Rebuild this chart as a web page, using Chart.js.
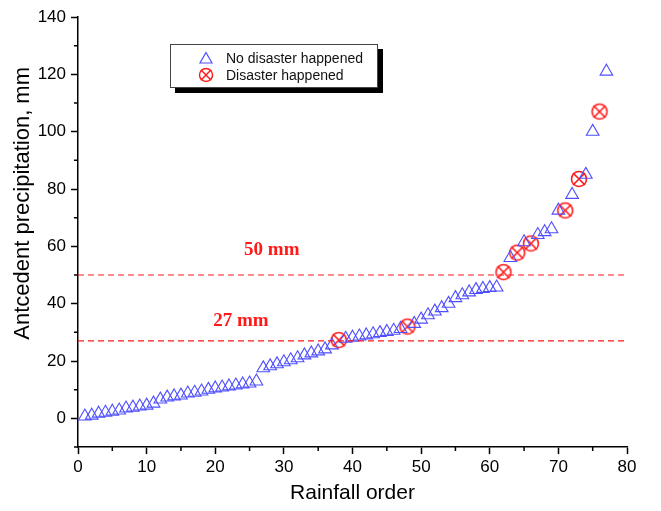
<!DOCTYPE html>
<html>
<head>
<meta charset="utf-8">
<script src="https://cdn.jsdelivr.net/npm/chart.js@4.4.1/dist/chart.umd.min.js"></script>
<style>
html,body{margin:0;padding:0;background:#fff;}
#wrap{position:relative;width:661px;height:511px;}
#legend{position:absolute;left:170px;top:44px;width:206px;height:42px;border:1px solid #444;background:#fff;box-shadow:5px 5px 0 #000;font:14px "Liberation Sans",Arial,sans-serif;color:#111;}
.row{position:absolute;left:0;height:17px;line-height:17px;width:100%;}
.row canvas{position:absolute;left:27px;top:0;}
.row span{position:absolute;left:55px;white-space:nowrap;}
</style>
</head>
<body>
<div id="wrap">
  <canvas id="chart" width="661" height="511"></canvas>
  <div id="legend">
    <div class="row" style="top:5px"><canvas id="lgBlue" width="16" height="16"></canvas><span>No disaster happened</span></div>
    <div class="row" style="top:22px"><canvas id="lgRed" width="16" height="16"></canvas><span>Disaster happened</span></div>
  </div>
</div>
<script>
// rainfall order (x) and antecedent precipitation in mm (y)
const noDisasterRank = [1,2,3,4,5,6,7,8,9,10,11,12,13,14,15,16,17,18,19,20,21,22,23,24,25,26,27,28,29,30,31,32,33,34,35,36,37,
  39,40,41,42,43,44,45,46,47,49,50,51,52,53,54,55,56,57,58,59,60,61,63,65,67,68,69,70,72,74,75,77];
const noDisasterValue = [0.7,1.0,1.7,2.0,2.4,2.8,3.5,3.8,4.2,4.5,5.2,6.6,7.3,7.7,8.0,8.7,9.0,9.4,10.0,10.5,10.8,11.2,11.5,11.9,12.2,12.9,
  17.5,18.2,18.9,19.6,20.3,21.0,22.0,22.7,23.4,24.1,25.5,
  27.8,28.2,28.6,29.0,29.4,29.8,30.2,30.6,31.2,
  33.0,34.5,36.0,37.3,38.5,40.0,42.0,43.0,44.0,44.8,45.2,45.5,45.7,
  56,61.5,64,65,66,72.5,78,85,100,121];
const disasterRank = [38,48,62,64,66,71,73,76];
const disasterValue = [27.3,32,51,57.8,61,72.5,83.5,107];

const thresholds = [50, 27];
const thresholdLabels = ['50 mm', '27 mm'];

const xTicks = [0,10,20,30,40,50,60,70,80];
const yTicks = [0,20,40,60,80,100,120,140];

const yTitle = 'Antcedent precipitation, mm';

const blue = '#4f4fff';
const red = '#ff1a1a';

// circle with a cross, used as the "disaster" marker
function makeCrossCircle(size, r, lw) {
  const c = document.createElement('canvas');
  c.width = size; c.height = size;
  drawCrossCircle(c.getContext('2d'), size / 2, r, lw);
  return c;
}
function drawCrossCircle(g, m, r, lw) {
  g.strokeStyle = red;
  g.lineWidth = lw;
  g.beginPath();
  g.arc(m, m, r, 0, Math.PI * 2);
  g.stroke();
  const d = r * 0.8;
  g.beginPath();
  g.moveTo(m - d, m - d); g.lineTo(m + d, m + d);
  g.moveTo(m + d, m - d); g.lineTo(m - d, m + d);
  g.stroke();
}
const redMarker = makeCrossCircle(20, 7.5, 1.6);

// legend icons
(function () {
  const gb = document.getElementById('lgBlue').getContext('2d');
  gb.strokeStyle = blue; gb.lineWidth = 1.2;
  gb.beginPath();
  gb.moveTo(8, 2.5); gb.lineTo(14, 13); gb.lineTo(2, 13); gb.closePath();
  gb.stroke();
  drawCrossCircle(document.getElementById('lgRed').getContext('2d'), 8, 6.5, 1.4);
})();

const extras = {
  id: 'extras',
  afterDraw(chart) {
    const {ctx, scales: {x, y}} = chart;
    ctx.save();
    // minor ticks, shorter than the major ones
    ctx.strokeStyle = '#000';
    ctx.lineWidth = 1.5;
    ctx.beginPath();
    x.ticks.forEach(t => {
      if (!xTicks.includes(t.value)) {
        const px = x.getPixelForValue(t.value);
        ctx.moveTo(px, x.top); ctx.lineTo(px, x.top + 4);
      }
    });
    y.ticks.forEach(t => {
      if (!yTicks.includes(t.value)) {
        const py = y.getPixelForValue(t.value);
        ctx.moveTo(y.right, py); ctx.lineTo(y.right - 4, py);
      }
    });
    ctx.stroke();
    // threshold labels
    ctx.fillStyle = red;
    ctx.font = 'bold 19px "Liberation Serif", "Times New Roman", serif';
    ctx.textBaseline = 'middle';
    const at = [[24.2, 58.7], [19.7, 33.9]];
    thresholdLabels.forEach((s, i) => {
      ctx.fillText(s, x.getPixelForValue(at[i][0]), y.getPixelForValue(at[i][1]));
    });
    // y axis title (sits a bit above the middle of the axis)
    ctx.fillStyle = '#000';
    ctx.font = '22px "Liberation Sans", Arial, sans-serif';
    ctx.textAlign = 'center';
    ctx.translate(23, y.getPixelForValue(75));
    ctx.rotate(-Math.PI / 2);
    ctx.fillText(yTitle, 0, 0);
    ctx.restore();
  }
};

const tickFont = {family: '"Liberation Sans", Arial, sans-serif', size: 17};
const titleFont = {family: '"Liberation Sans", Arial, sans-serif', size: 21};

const lineSets = thresholds.map(v => ({
  type: 'line',
  data: [{x: 0, y: v}, {x: 80, y: v}],
  borderColor: red,
  borderWidth: 1.2,
  borderDash: [6, 4],
  pointRadius: 0,
  fill: false
}));

new Chart(document.getElementById('chart'), {
  type: 'scatter',
  data: {
    datasets: [
      ...lineSets,
      {
        label: 'No disaster happened',
        data: noDisasterRank.map((r, i) => ({x: r, y: noDisasterValue[i]})),
        pointStyle: 'triangle',
        pointRadius: 7.3,
        borderColor: blue,
        borderWidth: 1.1,
        backgroundColor: 'rgba(0,0,0,0)'
      },
      {
        label: 'Disaster happened',
        data: disasterRank.map((r, i) => ({x: r, y: disasterValue[i]})),
        pointStyle: redMarker,
        pointRadius: 8
      }
    ]
  },
  options: {
    responsive: false,
    animation: false,
    events: [],
    layout: {padding: {left: 0, top: 17, right: 34, bottom: 5}},
    plugins: {legend: {display: false}, tooltip: {enabled: false}},
    scales: {
      x: {
        type: 'linear', min: 0, max: 80,
        afterFit(s) { s.height = 59; },
        border: {display: true, color: '#000', width: 1.5},
        grid: {drawOnChartArea: false, drawTicks: true, tickLength: 7, tickWidth: 1.5,
          tickColor: c => xTicks.includes(c.tick.value) ? '#000' : 'rgba(0,0,0,0)'},
        ticks: {stepSize: 5, autoSkip: false, maxRotation: 0, color: '#000', font: tickFont, padding: 3,
          callback: v => xTicks.includes(v) ? String(v) : ''},
        title: {display: true, text: 'Rainfall order', color: '#000', font: titleFont, padding: {top: 0, bottom: 0}}
      },
      y: {
        type: 'linear', min: -10, max: 140,
        afterFit(s) { s.width = 78; },
        border: {display: true, color: '#000', width: 1.5},
        grid: {drawOnChartArea: false, drawTicks: true, tickLength: 7, tickWidth: 1.5,
          tickColor: c => yTicks.includes(c.tick.value) ? '#000' : 'rgba(0,0,0,0)'},
        ticks: {stepSize: 10, autoSkip: false, color: '#000', font: tickFont, padding: 5,
          callback: v => yTicks.includes(v) ? String(v) : ''},
        title: {display: false}
      }
    }
  },
  plugins: [extras]
});
</script>
</body>
</html>
